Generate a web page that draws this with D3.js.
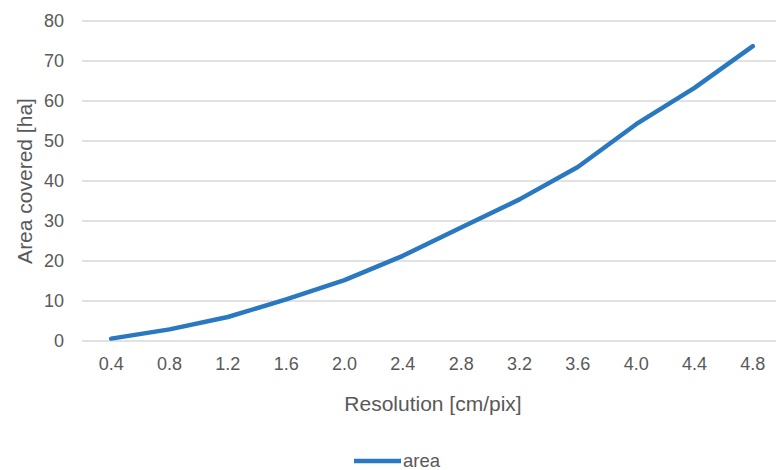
<!DOCTYPE html>
<html>
<head>
<meta charset="utf-8">
<script src="https://cdn.jsdelivr.net/npm/d3@7"></script>
<style>
  html, body { margin: 0; padding: 0; background: #fff; }
  svg text { font-family: "Liberation Sans", Arial, sans-serif; fill: #595959; }
</style>
</head>
<body>
<svg id="chart" width="776" height="470"></svg>
<script>
// Resolution categories (cm/pix) and the area covered (ha) at each
const resolutions = ["0.4", "0.8", "1.2", "1.6", "2.0", "2.4", "2.8", "3.2", "3.6", "4.0", "4.4", "4.8"];
const areaValues = [0.6, 2.9, 6.0, 10.4, 15.2, 21.3, 28.4, 35.4, 43.5, 54.2, 63.3, 73.7];
const yTicks = [0, 10, 20, 30, 40, 50, 60, 70, 80];
const seriesName = "area";

const svg = d3.select("#chart");
const plot = { left: 82, right: 782, top: 21, bottom: 341 };

const x = d3.scaleBand().domain(resolutions).range([plot.left, plot.right]);
const y = d3.scaleLinear().domain([0, 80]).range([plot.bottom, plot.top]);

// Horizontal gridlines
svg.append("g")
  .selectAll("line")
  .data(yTicks)
  .join("line")
  .attr("x1", plot.left)
  .attr("x2", plot.right)
  .attr("y1", d => y(d))
  .attr("y2", d => y(d))
  .attr("stroke", "#d9d9d9")
  .attr("stroke-width", 1.5);

// Y axis labels
const yAxis = svg.append("g")
  .attr("transform", `translate(${plot.left},0)`)
  .call(d3.axisLeft(y).tickValues(yTicks).tickSize(0).tickPadding(18));
yAxis.select(".domain").remove();
yAxis.selectAll("text")
  .style("font-size", "18px")
  .style("font-family", "'Liberation Sans', Arial, sans-serif")
  .attr("fill", "#595959");

// X axis labels
const xAxis = svg.append("g")
  .attr("transform", `translate(0,${plot.bottom})`)
  .call(d3.axisBottom(x).tickSize(0).tickPadding(16));
xAxis.select(".domain").remove();
xAxis.selectAll("text")
  .style("font-size", "18px")
  .style("font-family", "'Liberation Sans', Arial, sans-serif")
  .attr("fill", "#595959");

// Axis titles
svg.append("text")
  .attr("x", 433)
  .attr("y", 411)
  .attr("text-anchor", "middle")
  .style("font-size", "21px")
  .text("Resolution [cm/pix]");

svg.append("text")
  .attr("transform", `translate(32,${(plot.top + plot.bottom) / 2}) rotate(-90)`)
  .attr("text-anchor", "middle")
  .style("font-size", "21px")
  .text("Area covered [ha]");

// Data line
const line = d3.line()
  .x((d, i) => x(resolutions[i]) + x.bandwidth() / 2)
  .y(d => y(d));

svg.append("path")
  .datum(areaValues)
  .attr("d", line)
  .attr("fill", "none")
  .attr("stroke", "#2a78c0")
  .attr("stroke-width", 4.5)
  .attr("stroke-linejoin", "round")
  .attr("stroke-linecap", "round");

// Legend
const legend = svg.append("g").attr("transform", "translate(354,461)");
legend.append("line")
  .attr("x1", 0).attr("x2", 47)
  .attr("y1", 0).attr("y2", 0)
  .attr("stroke", "#2a78c0")
  .attr("stroke-width", 4.5);
legend.append("text")
  .attr("x", 49)
  .attr("y", 6)
  .style("font-size", "18.5px")
  .text(seriesName);
</script>
</body>
</html>
